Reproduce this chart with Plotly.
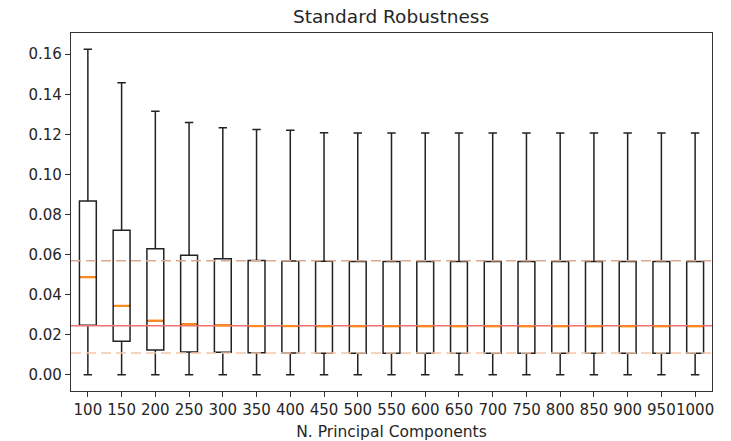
import plotly.graph_objects as go

# Number of principal components evaluated
components = [100, 150, 200, 250, 300, 350, 400, 450, 500, 550,
              600, 650, 700, 750, 800, 850, 900, 950, 1000]

# Box statistics (whisker min/max, quartiles, median) per setting
whisker_low = [0.0] * 19
whisker_high = [0.1625, 0.1458, 0.1316, 0.1259, 0.1233, 0.1224, 0.1221, 0.1208, 0.1207, 0.1207,
                0.1207, 0.1207, 0.1207, 0.1207, 0.1207, 0.1207, 0.1207, 0.1207, 0.1207]
q1 = [0.0247, 0.0167, 0.0124, 0.0114, 0.0112, 0.0110, 0.0109, 0.0108, 0.0108, 0.0108,
      0.0108, 0.0108, 0.0108, 0.0108, 0.0108, 0.0108, 0.0108, 0.0108, 0.0108]
medians = [0.0487, 0.0344, 0.0270, 0.0252, 0.0247, 0.0243, 0.0243, 0.0242, 0.0242, 0.0242,
           0.0242, 0.0242, 0.0242, 0.0242, 0.0242, 0.0242, 0.0242, 0.0242, 0.0242]
q3 = [0.0867, 0.0721, 0.0629, 0.0596, 0.0579, 0.0571, 0.0568, 0.0567, 0.0566, 0.0566,
      0.0566, 0.0566, 0.0566, 0.0566, 0.0566, 0.0566, 0.0566, 0.0566, 0.0566]

# Reference levels
reference_median = 0.0245
reference_q3 = 0.0569
reference_q1 = 0.0109

y_ticks = [0.0, 0.02, 0.04, 0.06, 0.08, 0.10, 0.12, 0.14, 0.16]

positions = list(range(1, len(components) + 1))
box_width = 0.5
x_lo, x_hi = 0.5, len(components) + 0.5

fig = go.Figure()

# Horizontal reference lines
fig.add_trace(go.Scatter(x=[x_lo, x_hi], y=[reference_q3] * 2, mode="lines",
                         line=dict(color="#d9aa90", width=1.5, dash="10px,5px"),
                         hoverinfo="skip", showlegend=False))
fig.add_trace(go.Scatter(x=[x_lo, x_hi], y=[reference_q1] * 2, mode="lines",
                         line=dict(color="#f6c6aa", width=1.5, dash="10px,5px"),
                         hoverinfo="skip", showlegend=False))
fig.add_trace(go.Scatter(x=[x_lo, x_hi], y=[reference_median] * 2, mode="lines",
                         line=dict(color="#f47070", width=1.5),
                         hoverinfo="skip", showlegend=False))

# Boxes
fig.add_trace(go.Box(
    x=positions, q1=q1, median=medians, q3=q3,
    lowerfence=whisker_low, upperfence=whisker_high,
    width=box_width, whiskerwidth=0.5,
    line=dict(color="#222222", width=1.5),
    fillcolor="rgba(0,0,0,0)", boxpoints=False,
    hoverinfo="skip", showlegend=False,
))

# Orange median markers drawn on top of each box
mx, my = [], []
for p, m in zip(positions, medians):
    mx += [p - box_width / 2 + 0.03, p + box_width / 2 - 0.03, None]
    my += [m, m, None]
fig.add_trace(go.Scatter(x=mx, y=my, mode="lines",
                         line=dict(color="#ff8a1e", width=2.2),
                         hoverinfo="skip", showlegend=False))

text_color = "#262626"
axis_font = dict(family="DejaVu Sans", size=15, color=text_color)
fig.update_layout(
    width=731, height=441,
    margin=dict(l=71, r=19, t=33, b=50, autoexpand=False),
    paper_bgcolor="white", plot_bgcolor="white",
    title=dict(text="Standard Robustness", x=0.535, xanchor="center",
               y=1 - 17 / 441, yanchor="middle",
               font=dict(family="DejaVu Sans", size=18.5, color=text_color)),
    xaxis=dict(range=[x_lo, x_hi], tickmode="array", tickvals=positions,
               ticktext=[str(c) for c in components], tickangle=0,
               automargin=False,
               showgrid=False, zeroline=False,
               showline=True, linecolor="#333333", linewidth=1.3, mirror=True,
               ticks="outside", ticklen=5, tickcolor="#333333", tickwidth=1.2,
               tickfont=axis_font,
               title=dict(text="N. Principal Components", standoff=10,
                          font=dict(family="DejaVu Sans", size=15.5, color=text_color))),
    yaxis=dict(range=[-0.0081, 0.1706], tickmode="array",
               tickvals=y_ticks, tickformat=".2f", automargin=False,
               showgrid=False, zeroline=False,
               showline=True, linecolor="#333333", linewidth=1.3, mirror=True,
               ticks="outside", ticklen=5, tickcolor="#333333", tickwidth=1.2,
               tickfont=axis_font),
)

fig.write_html("out.html")
